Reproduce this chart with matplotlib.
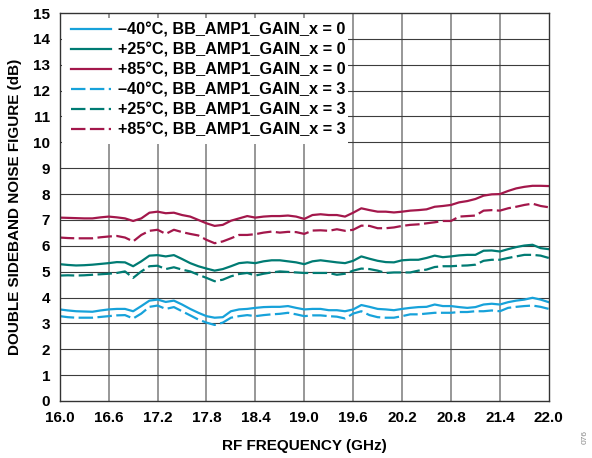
import numpy as np
import matplotlib
matplotlib.use('Agg')
import matplotlib.pyplot as plt
from matplotlib.patches import Rectangle

plt.rcParams['font.family'] = ['Liberation Sans', 'DejaVu Sans']
plt.rcParams['font.weight'] = 'bold'

# --- Dados ---
freq_ghz = np.round(np.arange(16.0, 22.05, 0.1), 1)

nf_m40_g0 = [3.54, 3.50, 3.47, 3.46, 3.45, 3.50, 3.54, 3.56, 3.56, 3.47,
             3.67, 3.88, 3.92, 3.83, 3.88, 3.73, 3.56, 3.41, 3.28, 3.22,
             3.24, 3.47, 3.54, 3.56, 3.60, 3.63, 3.64, 3.64, 3.67, 3.60,
             3.54, 3.56, 3.56, 3.51, 3.51, 3.47, 3.54, 3.71, 3.64, 3.56,
             3.54, 3.51, 3.56, 3.60, 3.63, 3.64, 3.73, 3.67, 3.67, 3.63,
             3.60, 3.63, 3.73, 3.76, 3.73, 3.82, 3.88, 3.92, 3.99, 3.92,
             3.82]
nf_p25_g0 = [5.29, 5.26, 5.24, 5.25, 5.27, 5.30, 5.33, 5.37, 5.36, 5.21,
             5.40, 5.62, 5.64, 5.59, 5.64, 5.49, 5.33, 5.21, 5.12, 5.04,
             5.10, 5.21, 5.33, 5.36, 5.33, 5.40, 5.44, 5.44, 5.40, 5.36,
             5.29, 5.40, 5.44, 5.40, 5.36, 5.33, 5.42, 5.59, 5.50, 5.42,
             5.37, 5.36, 5.44, 5.46, 5.46, 5.53, 5.62, 5.56, 5.59, 5.63,
             5.65, 5.65, 5.81, 5.82, 5.78, 5.87, 5.95, 6.01, 6.04, 5.91,
             5.87]
nf_p85_g0 = [7.09, 7.08, 7.07, 7.06, 7.06, 7.10, 7.13, 7.10, 7.06, 6.96,
             7.06, 7.28, 7.32, 7.26, 7.28, 7.19, 7.13, 7.00, 6.87, 6.77,
             6.81, 6.97, 7.06, 7.15, 7.09, 7.13, 7.15, 7.15, 7.17, 7.13,
             7.04, 7.19, 7.22, 7.19, 7.19, 7.13, 7.28, 7.45, 7.38, 7.32,
             7.32, 7.29, 7.32, 7.36, 7.38, 7.41, 7.51, 7.54, 7.58, 7.68,
             7.73, 7.81, 7.94, 7.99, 8.00, 8.12, 8.22, 8.28, 8.32, 8.32,
             8.31]
nf_m40_g3 = [3.28, 3.24, 3.22, 3.22, 3.22, 3.25, 3.28, 3.31, 3.32, 3.19,
             3.38, 3.64, 3.69, 3.56, 3.63, 3.47, 3.31, 3.15, 3.03, 2.94,
             3.03, 3.22, 3.28, 3.32, 3.28, 3.32, 3.35, 3.37, 3.41, 3.35,
             3.28, 3.31, 3.31, 3.28, 3.26, 3.19, 3.38, 3.47, 3.32, 3.24,
             3.22, 3.22, 3.28, 3.35, 3.35, 3.38, 3.41, 3.41, 3.41, 3.44,
             3.44, 3.47, 3.47, 3.50, 3.47, 3.60, 3.64, 3.67, 3.69, 3.64,
             3.56]
nf_p25_g3 = [4.85, 4.86, 4.85, 4.86, 4.88, 4.90, 4.92, 4.95, 5.01, 4.76,
             5.01, 5.21, 5.23, 5.10, 5.17, 5.08, 5.01, 4.88, 4.76, 4.63,
             4.69, 4.82, 4.91, 4.95, 4.85, 4.92, 4.97, 5.01, 4.99, 4.97,
             4.95, 4.95, 4.95, 4.95, 4.88, 4.92, 5.04, 5.12, 5.10, 5.04,
             4.95, 4.97, 4.97, 4.97, 5.04, 5.08, 5.18, 5.21, 5.21, 5.23,
             5.24, 5.27, 5.42, 5.46, 5.46, 5.53, 5.59, 5.65, 5.65, 5.62,
             5.53]
nf_p85_g3 = [6.32, 6.30, 6.29, 6.29, 6.29, 6.33, 6.36, 6.38, 6.32, 6.17,
             6.42, 6.58, 6.62, 6.46, 6.62, 6.53, 6.46, 6.40, 6.23, 6.10,
             6.17, 6.29, 6.42, 6.42, 6.45, 6.51, 6.55, 6.51, 6.54, 6.53,
             6.46, 6.59, 6.60, 6.58, 6.64, 6.58, 6.62, 6.78, 6.77, 6.68,
             6.68, 6.71, 6.77, 6.81, 6.83, 6.87, 6.91, 6.96, 6.96, 7.13,
             7.15, 7.17, 7.36, 7.38, 7.36, 7.45, 7.51, 7.58, 7.63, 7.54,
             7.49]

rotulos = ['–40°C, BB_AMP1_GAIN_x = 0',
           '+25°C, BB_AMP1_GAIN_x = 0',
           '+85°C, BB_AMP1_GAIN_x = 0',
           '–40°C, BB_AMP1_GAIN_x = 3',
           '+25°C, BB_AMP1_GAIN_x = 3',
           '+85°C, BB_AMP1_GAIN_x = 3']
series = [nf_m40_g0, nf_p25_g0, nf_p85_g0, nf_m40_g3, nf_p25_g3, nf_p85_g3]

x_ticks = [16.0, 16.6, 17.2, 17.8, 18.4, 19.0, 19.6, 20.2, 20.8, 21.4, 22.0]
y_ticks = list(range(0, 16))

# --- Estilo ---
cores = ['#17a2da', '#007b73', '#a3174b']
tracejado = (0, (6.5, 2))
estilos = ['-', '-', '-', tracejado, tracejado, tracejado]

fig = plt.figure(figsize=(5.92, 4.58), dpi=100)
ax = fig.add_axes([0.101, 0.1245, 0.826, 0.847])

for i, (dados, rotulo) in enumerate(zip(series, rotulos)):
    ax.plot(freq_ghz, dados, color=cores[i % 3], linestyle=estilos[i],
            linewidth=1.6, label=rotulo, zorder=3)

ax.set_xlim(16.0, 22.0)
ax.set_ylim(0, 15)
ax.set_xticks(x_ticks)
ax.set_xticklabels([f'{v:.1f}' for v in x_ticks])
ax.set_yticks(y_ticks)

# grade: verticais cinza, horizontais escuras
for xv in x_ticks[1:-1]:
    ax.axvline(xv, color='#8f8f8f', linewidth=1.3, zorder=1)
for yv in y_ticks[1:-1]:
    ax.axhline(yv, color='#3c3c3c', linewidth=0.8, zorder=1)

# fundo branco da legenda (esconde a grade nessa região)
ax.add_patch(Rectangle((0.004, 0.662), 0.585, 0.325, transform=ax.transAxes,
                       facecolor='white', edgecolor='none', zorder=4))

for lado in ax.spines.values():
    lado.set_color('#333333')
    lado.set_linewidth(1.0)
    lado.set_zorder(6)

ax.tick_params(axis='both', which='both', length=0, labelsize=11)
ax.tick_params(axis='x', pad=7)
ax.tick_params(axis='y', pad=7)
for rotulo_tick in ax.get_xticklabels() + ax.get_yticklabels():
    rotulo_tick.set_fontweight('bold')

ax.set_xlabel('RF FREQUENCY (GHz)', fontsize=11, fontweight='bold', labelpad=10)
ax.set_ylabel('DOUBLE SIDEBAND NOISE FIGURE (dB)', fontsize=11,
              fontweight='bold', labelpad=8)

leg = ax.legend(loc='upper left', bbox_to_anchor=(0.012, 0.99), frameon=False,
                fontsize=11.7, handlelength=2.45, handletextpad=0.4,
                labelspacing=0.3, borderpad=0.35, borderaxespad=0.0)
leg.set_zorder(5)
for texto in leg.get_texts():
    texto.set_fontweight('bold')

fig.text(0.988, 0.045, '076', rotation=90, fontsize=6, color='#888888',
         ha='center', va='center', fontweight='normal')

fig.savefig('out.png', dpi=100)
